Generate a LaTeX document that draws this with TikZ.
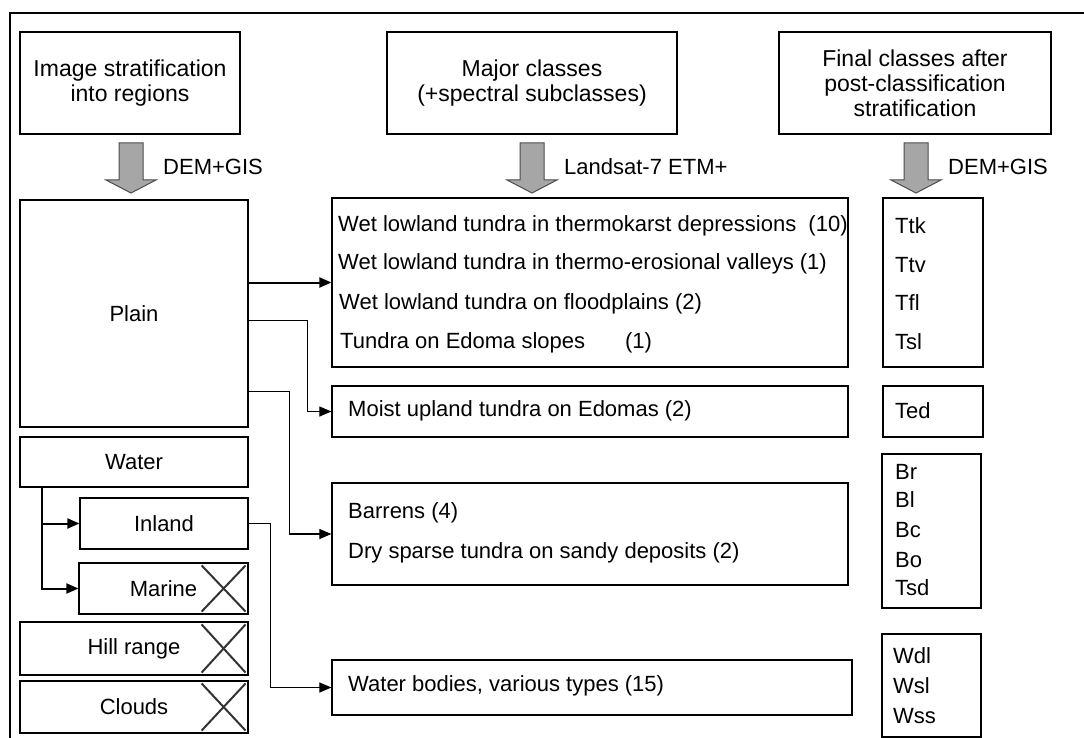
\documentclass[tikz,border=0pt]{standalone}
\usepackage{fontspec}
\setmainfont{Liberation Sans}
\usetikzlibrary{arrows.meta}

\begin{document}
\begin{tikzpicture}[x=1pt, y=-1pt,
    font=\fontsize{22}{25}\selectfont,
    box/.style={draw, line width=1.2pt, inner sep=0pt, align=center},
    item/.style={anchor=west, inner sep=0pt},
    conn/.style={line width=1.1pt, -{Triangle[length=12pt,width=10pt]}},
    heavy/.style={line width=2pt},
    bigarrow/.style={fill=black!35, draw=black!70, line width=1pt},
    cross/.style={draw=black!80, line width=2pt}]
    \useasboundingbox (0,0) rectangle (1084,738);

    % Frame
    \draw[line width=1.2pt] (10,760) -- (10,13) -- (1100,13);

    % Headers
    \node[box, minimum width=220pt, minimum height=102pt, font=\fontsize{23}{25}\selectfont] (strat) at (130,83) {Image stratification\\into regions};
    \node[box, minimum width=290pt, minimum height=102pt, font=\fontsize{23}{25}\selectfont] (major) at (532,83) {Major classes\\(+spectral subclasses)};
    \node[box, minimum width=272pt, minimum height=102pt, font=\fontsize{23}{25}\selectfont] (final) at (915,83) {Final classes after\\post-classification\\stratification};

    % Grey arrows and labels
    \foreach \x/\lbl in {131/DEM+GIS, 532/Landsat-7 ETM+, 916/DEM+GIS} {
        \draw[bigarrow] ({\x-12},143) -- ({\x+12},143) -- ({\x+12},180) -- ({\x+25},180)
            -- (\x,193) -- ({\x-25},180) -- ({\x-12},180) -- cycle;
        \node[item] at ({\x+32},167) {\lbl};
    }

    % Regions
    \node[box, minimum width=228pt, minimum height=227pt] (plain) at (134,313.5) {Plain};
    \node[box, minimum width=228pt, minimum height=50pt] (water) at (134,462) {Water};
    \node[box, minimum width=168pt, minimum height=51pt] (inland) at (164,523.5) {Inland};
    \node[box, minimum width=169pt, minimum height=51pt] (marine) at (163.5,588.5) {Marine};
    \node[box, minimum width=228pt, minimum height=53pt] (hill) at (134,648.5) {Hill range};
    \node[box, minimum width=228pt, minimum height=52pt] (clouds) at (134,707) {Clouds};

    % Excluded regions
    \foreach \b in {marine, hill, clouds} {
        \draw[cross] ([xshift=-47pt,yshift=-3pt]\b.north east) -- ([xshift=-3pt,yshift=3pt]\b.south east);
        \draw[cross] ([xshift=-47pt,yshift=3pt]\b.south east) -- ([xshift=-3pt,yshift=-3pt]\b.north east);
    }

    % Major classes
    \node[box, minimum width=516pt, minimum height=169pt] (wet) at (590,282.5) {};
    \node[item] (wet1) at (338,226) {Wet lowland tundra in thermokarst depressions~~(10)};
    \node[item] (wet2) at (338,264) {Wet lowland tundra in thermo-erosional valleys (1)};
    \node[item] (wet3) at (339,304) {Wet lowland tundra on floodplains (2)};
    \node[item] (wet4) at (340,343) {Tundra on Edoma slopes\hspace{40pt}(1)};

    \node[box, minimum width=516pt, minimum height=51pt] (moist) at (590,411.5) {};
    \node[item] (moist1) at (348,411) {Moist upland tundra on Edomas (2)};

    \node[box, minimum width=516pt, minimum height=102pt] (barr) at (590,534) {};
    \node[item] (barr1) at (348,513) {Barrens (4)};
    \node[item] (barr2) at (348,553) {Dry sparse tundra on sandy deposits (2)};

    \node[box, minimum width=520pt, minimum height=55pt] (wbod) at (592,687.5) {};
    \node[item] (wbod1) at (348,686) {Water bodies, various types (15)};

    % Final classes
    \node[box, minimum width=100pt, minimum height=169pt] (fwet) at (933,282.5) {};
    \foreach \y/\c in {226/Ttk, 265/Ttv, 303/Tfl, 342/Tsl}
        \node[item] at (895,\y) {\c};
    \node[box, minimum width=100pt, minimum height=51pt] (fmoist) at (933,411.5) {};
    \node[item] at (895,411) {Ted};
    \node[box, minimum width=99pt, minimum height=154pt] (fbarr) at (931.5,531) {};
    \foreach \y/\c in {472/Br, 500/Bl, 530/Bc, 560/Bo, 588/Tsd}
        \node[item] at (895,\y) {\c};
    \node[box, minimum width=99pt, minimum height=103pt] (fwbod) at (931.5,685.5) {};
    \foreach \y/\c in {656/Wdl, 686/Wsl, 716/Wss}
        \node[item] at (893,\y) {\c};

    % Connectors
    \draw[conn, heavy] (plain.east |- wet.west) -- (wet.west);
    \draw[conn] ([yshift=-7pt]plain.east) -- ++(59,0) |- (moist.west);
    \draw[conn] ([yshift=-78pt]plain.east) -- ++(41,0) |- (barr.west);
    \draw[conn] (inland.east) -- ++(22,0) |- (wbod.west);
    \coordinate (wfork) at ([xshift=-92pt]water.south);
    \draw[conn, heavy] (wfork) |- (inland.west);
    \draw[conn, heavy] (wfork) |- (marine.west);
\end{tikzpicture}
\end{document}
